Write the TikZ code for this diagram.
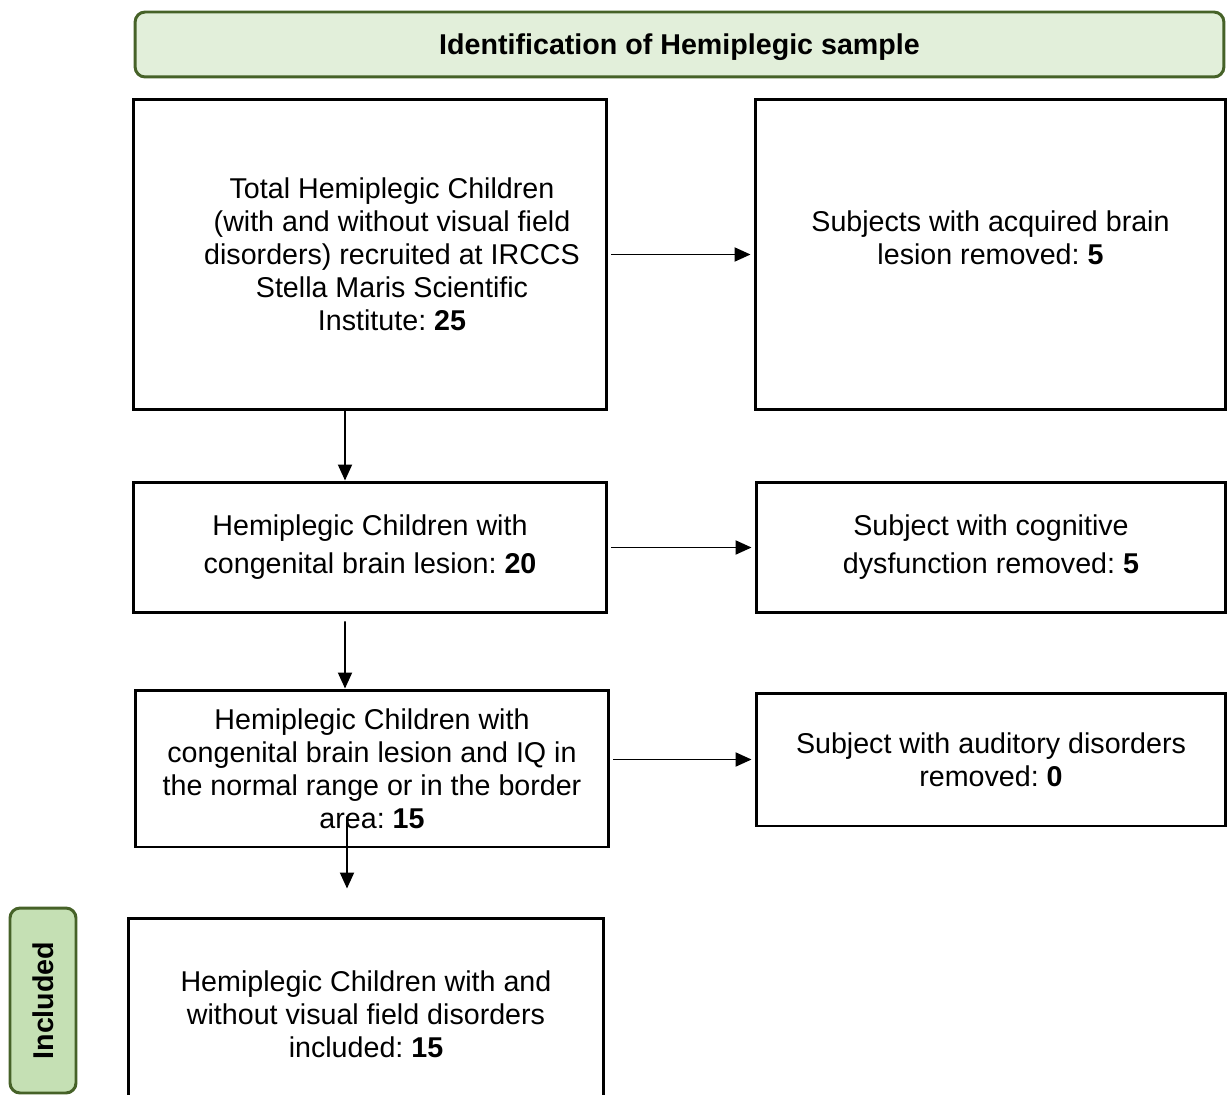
\documentclass[tikz,border=0pt]{standalone}
\usepackage{fontspec}
\setmainfont{Liberation Sans}
\usetikzlibrary{arrows.meta}
\definecolor{hdrfill}{RGB}{226,239,218}
\definecolor{incfill}{RGB}{197,224,180}
\definecolor{hdrline}{RGB}{70,98,40}

\begin{document}
\frenchspacing
\begin{tikzpicture}[x=0.02cm,y=-0.02cm,
    box/.style={draw,line width=1.7pt,align=center,inner sep=0pt},
    hdr/.style={draw=hdrline,fill=hdrfill,line width=1.7pt,rounded corners=0.2cm,inner sep=0pt,font=\bfseries},
    arr/.style={line width=1.1pt,-{Triangle[length=0.32cm,width=0.28cm]}}]
    \useasboundingbox (0,0) rectangle (1227,1095);
    \fontsize{16.3}{18.8}\selectfont

    % Headers
    \node[hdr,text depth=0pt,minimum width=21.78cm,minimum height=1.30cm] (ident) at (679.5,44.5) {Identification of Hemiplegic sample};
    \node[hdr,fill=incfill,rotate=90,minimum width=3.70cm,minimum height=1.32cm] (incl) at (43,1000.5) {Included};

    % Main column
    \node[box,minimum width=9.48cm,minimum height=6.22cm,
      label={[align=center,xshift=0.44cm]center:Total Hemiplegic Children\\(with and without visual field\\disorders) recruited at IRCCS\\Stella Maris Scientific\\Institute: \textbf{25}}] (total) at (370,254.5) {};
    \node[box,minimum width=9.48cm,minimum height=2.62cm] (congenital) at (370,547.5) {Hemiplegic Children with\\[0.1cm]congenital brain lesion: \textbf{20}};
    \node[box,minimum width=9.48cm,minimum height=3.14cm] (normaliq) at (372,768.5) {Hemiplegic Children with\\congenital brain lesion and IQ in\\the normal range or in the border\\area: \textbf{15}};
    \node[box,minimum width=9.52cm,minimum height=3.84cm] (included) at (366,1014) {Hemiplegic Children with and\\without visual field disorders\\included: \textbf{15}};

    % Removed subjects
    \node[box,minimum width=9.42cm,minimum height=6.22cm] (acquired) at (990.5,254.5) {Subjects with acquired brain\\lesion removed: \textbf{5}\\~};
    \node[box,minimum width=9.40cm,minimum height=2.62cm] (cognitive) at (991,547.5) {Subject with cognitive\\[0.1cm]dysfunction removed: \textbf{5}};
    \node[box,minimum width=9.40cm,minimum height=2.66cm] (auditory) at (991,759.5) {Subject with auditory disorders\\removed: \textbf{0}};

    % Arrows
    \draw[arr,shorten <=0.06cm,shorten >=0.06cm] (total) -- (acquired);
    \draw[arr] ([xshift=-0.5cm]total.south) -- ([xshift=-0.5cm]congenital.north);
    \draw[arr,shorten <=0.06cm,shorten >=0.06cm] (congenital) -- (cognitive);
    \draw[arr] ([xshift=-0.5cm,yshift=-0.14cm]congenital.south) -- ([xshift=-0.54cm]normaliq.north);
    \draw[arr,shorten <=0.06cm,shorten >=0.06cm] (normaliq.east |- auditory.west) -- (auditory.west);
    \draw[arr] ([xshift=-0.5cm,yshift=0.64cm]normaliq.south) -- ([xshift=-0.38cm,yshift=0.56cm]included.north);
\end{tikzpicture}
\end{document}
